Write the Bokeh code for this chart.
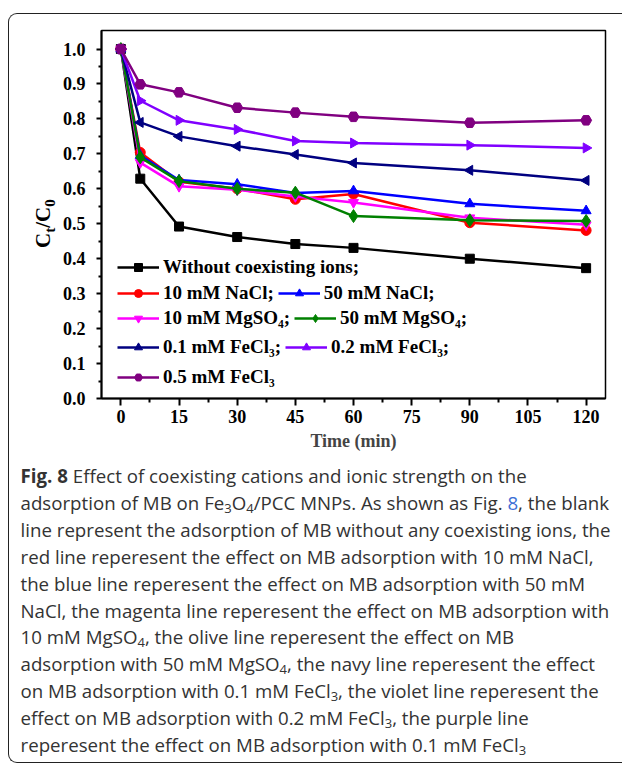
import math
from bokeh.plotting import figure
from bokeh.models import FixedTicker, Legend, LegendItem, Div
from bokeh.layouts import column, row
from bokeh.embed import file_html
from bokeh.resources import INLINE

# ---------------- data ----------------
time_min = [0, 5, 15, 30, 45, 60, 90, 120]
without_ions = [1.0, 0.629, 0.492, 0.462, 0.442, 0.431, 0.400, 0.373]
nacl_10 = [1.0, 0.704, 0.620, 0.600, 0.570, 0.585, 0.503, 0.481]
nacl_50 = [1.0, 0.695, 0.625, 0.613, 0.588, 0.594, 0.557, 0.537]
mgso4_10 = [1.0, 0.675, 0.607, 0.597, 0.578, 0.561, 0.517, 0.497]
mgso4_50 = [1.0, 0.690, 0.622, 0.600, 0.589, 0.522, 0.510, 0.508]
fecl3_01 = [1.0, 0.790, 0.750, 0.722, 0.698, 0.674, 0.653, 0.624]
fecl3_02 = [1.0, 0.852, 0.796, 0.770, 0.737, 0.731, 0.725, 0.717]
fecl3_05 = [1.0, 0.899, 0.876, 0.832, 0.818, 0.806, 0.789, 0.796]

series_values = [without_ions, nacl_10, nacl_50, mgso4_10, mgso4_50,
                 fecl3_01, fecl3_02, fecl3_05]
series_labels = ["Without coexisting ions;", "10 mM NaCl;", "50 mM NaCl;",
                 "10 mM MgSO\u2084;", "50 mM MgSO\u2084;", "0.1 mM FeCl\u2083;",
                 "0.2 mM FeCl\u2083;", "0.5 mM FeCl\u2083"]
series_colors = ["#000000", "#ff0000", "#0000ff", "#ff00ff", "#008000",
                 "#000080", "#8000ff", "#800080"]
series_markers = ["square", "circle", "triangle", "inverted_triangle",
                  "diamond", "triangle", "triangle", "hex"]
series_angles = [0, 0, 0, 0, 0, math.pi / 2, -math.pi / 2, 0]
series_sizes = [9, 10, 10, 10, 13, 10, 10, 11]
legend_rows = [[0], [1, 2], [3, 4], [5, 6], [7]]

x_ticks = [0, 15, 30, 45, 60, 75, 90, 105, 120]
x_minor = [7.5, 22.5, 37.5, 52.5, 67.5, 82.5, 97.5, 112.5]
y_ticks = [0.0, 0.1, 0.2, 0.3, 0.4, 0.5, 0.6, 0.7, 0.8, 0.9, 1.0]
y_minor = [0.05, 0.15, 0.25, 0.35, 0.45, 0.55, 0.65, 0.75, 0.85, 0.95]
y_tick_labels = {v: "%.1f" % v for v in y_ticks}
x_label = "Time (min)"
y_label_html = "C<sub>t</sub>/C<sub>0</sub>"

caption_lines = [
    '<b>Fig. 8</b> Effect of coexisting cations and ionic strength on the',
    'adsorption of MB on Fe<sub>3</sub>O<sub>4</sub>/PCC MNPs. As shown as Fig. '
    '<span style="color:#3d6fd6">8</span>, the blank',
    'line represent the adsorption of MB without any coexisting ions, the',
    'red line reperesent the effect on MB adsorption with 10 mM NaCl,',
    'the blue line reperesent the effect on MB adsorption with 50 mM',
    'NaCl, the magenta line reperesent the effect on MB adsorption with',
    '10 mM MgSO<sub>4</sub>, the olive line reperesent the effect on MB',
    'adsorption with 50 mM MgSO<sub>4</sub>, the navy line reperesent the effect',
    'on MB adsorption with 0.1 mM FeCl<sub>3</sub>, the violet line reperesent the',
    'effect on MB adsorption with 0.2 mM FeCl<sub>3</sub>, the purple line',
    'reperesent the effect on MB adsorption with 0.1 mM FeCl<sub>3</sub>',
]

# ---------------- figure ----------------
FONT = "Liberation Serif"
X0, X1 = -5, 125
Y0, Y1 = 0.0, 1.053
FW, FH = 504, 368
FIG_H = 16 + FH + 65
YLAB_W = 50

p = figure(frame_width=FW, frame_height=FH, min_border_left=92 - YLAB_W,
           min_border_right=17, min_border_top=16, min_border_bottom=65,
           x_range=(X0, X1), y_range=(Y0, Y1), margin=0,
           output_backend="svg", toolbar_location=None)
p.grid.visible = False
p.outline_line_color = "black"
p.outline_line_width = 1.5
p.background_fill_color = "white"
p.border_fill_color = "white"

p.xaxis.ticker = FixedTicker(ticks=x_ticks, minor_ticks=x_minor)
p.yaxis.ticker = FixedTicker(ticks=y_ticks, minor_ticks=y_minor)
p.yaxis.major_label_overrides = y_tick_labels
for ax in (p.xaxis, p.yaxis):
    ax.axis_line_width = 2
    ax.major_tick_line_width = 2
    ax.minor_tick_line_width = 2
    ax.major_tick_in = 0
    ax.minor_tick_in = 0
    ax.major_label_text_font = FONT
    ax.major_label_text_font_style = "bold"
    ax.major_label_text_font_size = "18px"
    ax.major_label_text_color = "black"
    ax.axis_label_text_font = FONT
    ax.axis_label_text_font_style = "bold"
    ax.axis_label_text_font_size = "18px"
p.xaxis.major_tick_out = 7
p.xaxis.minor_tick_out = 4
p.yaxis.major_tick_out = 5
p.yaxis.minor_tick_out = 3
p.xaxis.major_label_standoff = 4
p.yaxis.major_label_standoff = 11
p.xaxis.axis_label = x_label
p.xaxis.axis_label_standoff = 5

renderers = []
for vals, col, mk, ang, sz in zip(series_values, series_colors, series_markers,
                                  series_angles, series_sizes):
    lr = p.line(time_min, vals, line_color=col, line_width=2.5)
    sr = p.scatter(time_min, vals, marker=mk, angle=ang, size=sz,
                   fill_color=col, line_color=col)
    renderers.append((lr, sr))

# legend rows (positions in screen px relative to frame bottom-left)
row_bottoms = [120, 94, 69, 40, 10]
for rw, yb in zip(legend_rows, row_bottoms):
    items = [LegendItem(label=series_labels[i], renderers=list(renderers[i])) for i in rw]
    lg = Legend(items=items, orientation="horizontal", location=(16, yb),
                padding=0, margin=0, spacing=4, label_standoff=4,
                glyph_width=42, glyph_height=20, label_height=20,
                border_line_alpha=0, background_fill_alpha=0,
                label_text_font=FONT, label_text_font_style="bold",
                label_text_font_size="19px", label_text_color="black")
    p.add_layout(lg)

# rotated y-axis label as real HTML text with subscripts
ylab_html = (
    '<div style="position:relative; width:%dpx; height:%dpx;">'
    '<div style="position:absolute; left:24px; top:234px; transform:rotate(-90deg); '
    'transform-origin:left top; white-space:nowrap; font-family:\'Liberation Serif\'; '
    'font-weight:bold; font-size:21px; line-height:20px; color:black;">%s</div></div>'
    % (YLAB_W, FIG_H, y_label_html.replace(
        "<sub>", '<sub style="font-size:15px; vertical-align:-5px; line-height:0;">'))
)
ylab = Div(text=ylab_html, width=YLAB_W, height=FIG_H, margin=0)

caption_html = ('<div style="padding-left:11.5px; font-family:\'Open Sans\', sans-serif; '
                'font-size:18.7px; line-height:26.9px; color:#333; white-space:nowrap;">'
                + "<br>".join(caption_lines) + "</div>")
caption_html = caption_html.replace(
    "<sub>", '<sub style="font-size:13px; vertical-align:-3px; line-height:0;">')
cap = Div(text=caption_html, width=605, height=299, margin=0)

layout = column(row(ylab, p, spacing=0, margin=0), cap, spacing=0, margin=0,
                styles={"margin-left": "8px", "margin-top": "13px",
                        "border": "1.5px solid #222", "border-right": "none",
                        "border-radius": "9px 0 0 9px"})

open("out.html", "w").write(file_html(layout, INLINE))
